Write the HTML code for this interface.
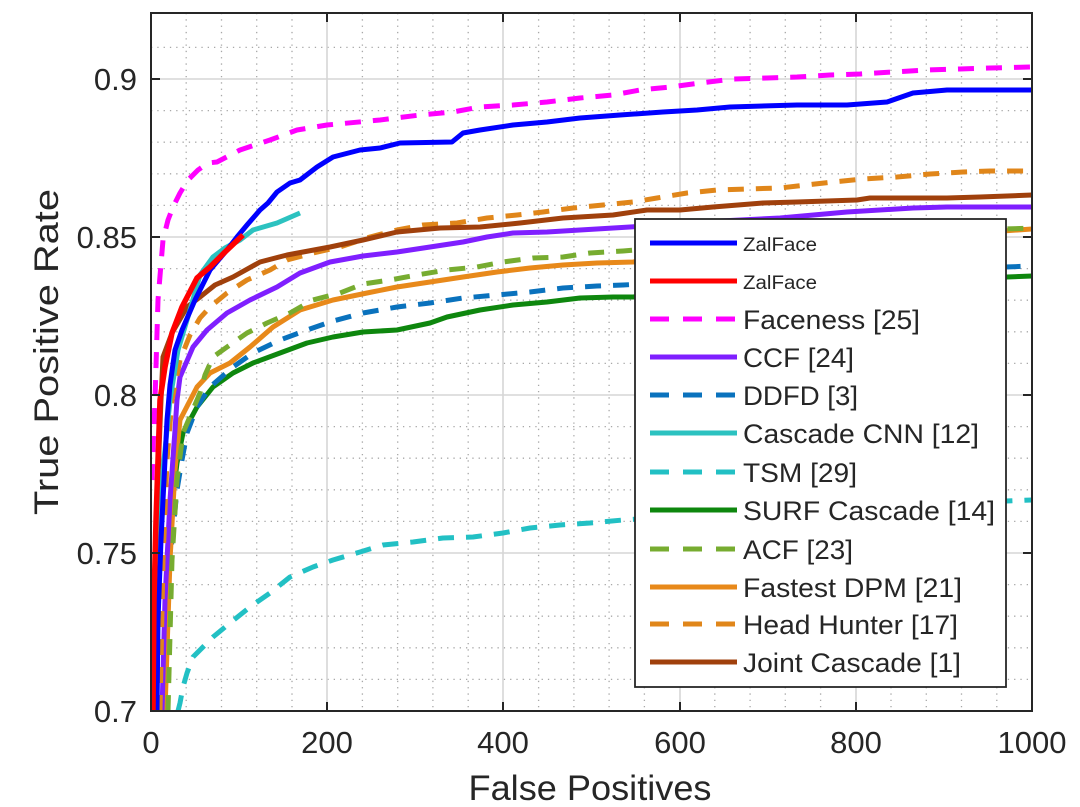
<!DOCTYPE html>
<html>
<head>
<meta charset="utf-8">
<style>
html,body{margin:0;padding:0;background:#fff;}
svg{display:block;}
text{font-family:"Liberation Sans",Arial,sans-serif;fill:#262626;}
</style>
</head>
<body>
<svg width="1080" height="807" viewBox="0 0 1080 807" xmlns="http://www.w3.org/2000/svg">
<defs>
<clipPath id="pa"><rect x="151" y="13" width="881" height="698"/></clipPath>
</defs>
<rect x="0" y="0" width="1080" height="807" fill="#fff"/>

<!-- minor grid -->
<g stroke="#a8a8a8" stroke-width="1.3" stroke-dasharray="1.3 5" fill="none">
<line x1="186.2" y1="13" x2="186.2" y2="711"/>
<line x1="221.5" y1="13" x2="221.5" y2="711"/>
<line x1="256.7" y1="13" x2="256.7" y2="711"/>
<line x1="292" y1="13" x2="292" y2="711"/>
<line x1="362.4" y1="13" x2="362.4" y2="711"/>
<line x1="397.7" y1="13" x2="397.7" y2="711"/>
<line x1="432.9" y1="13" x2="432.9" y2="711"/>
<line x1="468.2" y1="13" x2="468.2" y2="711"/>
<line x1="538.6" y1="13" x2="538.6" y2="711"/>
<line x1="573.9" y1="13" x2="573.9" y2="711"/>
<line x1="609.1" y1="13" x2="609.1" y2="711"/>
<line x1="644.4" y1="13" x2="644.4" y2="711"/>
<line x1="714.8" y1="13" x2="714.8" y2="711"/>
<line x1="750.1" y1="13" x2="750.1" y2="711"/>
<line x1="785.3" y1="13" x2="785.3" y2="711"/>
<line x1="820.6" y1="13" x2="820.6" y2="711"/>
<line x1="891" y1="13" x2="891" y2="711"/>
<line x1="926.3" y1="13" x2="926.3" y2="711"/>
<line x1="961.5" y1="13" x2="961.5" y2="711"/>
<line x1="996.8" y1="13" x2="996.8" y2="711"/>

<line x1="151" y1="679.4" x2="1032" y2="679.4"/>
<line x1="151" y1="647.8" x2="1032" y2="647.8"/>
<line x1="151" y1="616.2" x2="1032" y2="616.2"/>
<line x1="151" y1="584.6" x2="1032" y2="584.6"/>
<line x1="151" y1="521.4" x2="1032" y2="521.4"/>
<line x1="151" y1="489.8" x2="1032" y2="489.8"/>
<line x1="151" y1="458.2" x2="1032" y2="458.2"/>
<line x1="151" y1="426.6" x2="1032" y2="426.6"/>
<line x1="151" y1="363.4" x2="1032" y2="363.4"/>
<line x1="151" y1="331.8" x2="1032" y2="331.8"/>
<line x1="151" y1="300.2" x2="1032" y2="300.2"/>
<line x1="151" y1="268.6" x2="1032" y2="268.6"/>
<line x1="151" y1="205.4" x2="1032" y2="205.4"/>
<line x1="151" y1="173.8" x2="1032" y2="173.8"/>
<line x1="151" y1="142.2" x2="1032" y2="142.2"/>
<line x1="151" y1="110.6" x2="1032" y2="110.6"/>
<line x1="151" y1="47.4" x2="1032" y2="47.4"/>
</g>

<!-- major grid -->
<g stroke="#d6d6d6" stroke-width="1.6" fill="none">
<line x1="327" y1="13" x2="327" y2="711"/>
<line x1="503" y1="13" x2="503" y2="711"/>
<line x1="680" y1="13" x2="680" y2="711"/>
<line x1="856" y1="13" x2="856" y2="711"/>
<line x1="151" y1="79" x2="1032" y2="79"/>
<line x1="151" y1="237" x2="1032" y2="237"/>
<line x1="151" y1="395" x2="1032" y2="395"/>
<line x1="151" y1="553" x2="1032" y2="553"/>
</g>

<!-- series -->
<g clip-path="url(#pa)" fill="none" stroke-linejoin="round" stroke-linecap="butt">
<!-- TSM -->
<path stroke="#22c0c4" stroke-width="5" stroke-dasharray="16 12" d="M178,711 L180,703 L183,687 L187,673 L193,657 L200,650 L213,637 L230,623 L250,607 L270,593 L290,577 L313,567 L333,560 L360,552 L383,545 L413,542 L443,538 L473,537 L503,533 L530,528 L560,525 L590,523 L623,520 L750,512 L900,505 L1032,500"/>
<!-- SURF Cascade -->
<path stroke="#0e870e" stroke-width="5" d="M163,711 L166,600 L170,520 L177,463 L183,433 L197,407 L213,387 L233,373 L253,363 L280,353 L307,343 L333,337 L363,332 L397,330 L430,323 L447,317 L480,310 L513,305 L547,302 L580,298 L613,297 L633,297 L700,292 L800,286 L900,281 L1032,276"/>
<!-- DDFD -->
<path stroke="#0a72bd" stroke-width="5" stroke-dasharray="16 12" d="M167,600 L170,560 L173,530 L177,490 L182,460 L187,433 L197,407 L210,387 L233,367 L253,353 L280,340 L307,330 L333,321 L363,313 L397,307 L430,303 L463,298 L497,295 L530,292 L563,288 L597,286 L623,285 L700,281 L800,276 L900,271 L1032,266"/>
<!-- Fastest DPM -->
<path stroke="#e8891a" stroke-width="5" d="M165,711 L170,560 L175,470 L180,420 L197,387 L210,373 L230,363 L250,347 L273,327 L300,310 L333,300 L367,293 L397,287 L430,282 L463,277 L497,272 L530,268 L563,265 L597,263 L633,262 L750,250 L900,238 L1032,229"/>
<!-- ACF -->
<path stroke="#77ac30" stroke-width="5" stroke-dasharray="16 12" d="M168,711 L172,560 L177,480 L183,433 L200,393 L205,375 L213,357 L227,347 L247,333 L267,323 L290,313 L313,300 L340,293 L363,284 L390,280 L417,275 L447,270 L477,267 L503,262 L533,258 L563,257 L590,253 L623,251 L700,245 L800,238 L900,233 L1032,228"/>
<!-- CCF -->
<path stroke="#7f1fff" stroke-width="5" d="M162,711 L165,600 L170,500 L175,430 L177,400 L180,377 L193,347 L207,330 L227,313 L250,300 L277,287 L300,273 L330,262 L363,256 L397,252 L430,247 L463,242 L487,237 L513,233 L547,232 L580,230 L630,227 L700,222 L780,218 L847,212 L913,208 L947,207 L1032,207"/>
<!-- Head Hunter -->
<path stroke="#e0861a" stroke-width="5" stroke-dasharray="16 12" d="M160,711 L163,560 L167,460 L172,400 L180,360 L190,335 L200,318 L210,307 L227,293 L247,280 L270,270 L287,260 L313,253 L340,247 L370,237 L397,230 L423,225 L457,223 L487,218 L517,215 L543,212 L573,208 L603,205 L633,202 L657,198 L687,193 L717,190 L747,189 L780,188 L833,182 L863,179 L897,177 L930,174 L963,172 L990,171 L1032,171"/>
<!-- Joint Cascade -->
<path stroke="#a0400c" stroke-width="5" d="M155,711 L157,560 L159,450 L161,400 L163,357 L172,333 L187,307 L200,297 L215,285 L233,277 L260,262 L287,255 L330,247 L363,240 L397,232 L440,228 L480,227 L520,223 L563,218 L613,215 L647,210 L680,210 L713,207 L763,203 L797,202 L857,200 L870,198 L947,198 L980,197 L1032,195"/>
<!-- Cascade CNN -->
<path stroke="#2cc2c0" stroke-width="5" d="M156,711 L157,620 L160,520 L163,470 L170,400 L178,350 L190,310 L200,275 L213,257 L225,248 L240,240 L253,230 L277,223 L300,213"/>
<!-- Faceness -->
<path stroke="#ff00ff" stroke-width="5" stroke-dasharray="16 12" d="M152,480 L153,450 L155,400 L158,300 L163,240 L168,220 L173,207 L180,193 L188,180 L198,170 L208,163 L217,162 L240,150 L270,140 L297,130 L327,125 L380,120 L420,115 L453,112 L480,107 L513,105 L547,102 L580,98 L613,95 L640,90 L670,87 L700,83 L733,79 L767,78 L797,77 L830,75 L860,74 L893,72 L927,70 L960,69 L990,68 L1032,67"/>
<!-- ZalFace blue -->
<path stroke="#0000ff" stroke-width="5" d="M157,711 L158,620 L161,540 L164,480 L167,420 L170,385 L175,350 L182,330 L195,300 L210,270 L227,250 L237,237 L247,225 L260,210 L268,203 L277,192 L290,183 L300,180 L317,167 L333,157 L360,150 L380,148 L400,143 L452,142 L463,133 L480,130 L513,125 L547,122 L580,118 L620,115 L663,112 L697,110 L730,107 L797,105 L847,105 L887,102 L913,93 L947,90 L1032,90"/>
<!-- ZalFace red -->
<path stroke="#ff0000" stroke-width="5.5" d="M153,711 L154,600 L156,520 L158,460 L160,400 L165,367 L172,333 L182,307 L197,278 L210,267 L225,252 L243,235"/>
</g>

<!-- axes box -->
<rect x="151" y="13" width="881" height="698" fill="none" stroke="#262626" stroke-width="2"/>
<!-- ticks -->
<g stroke="#262626" stroke-width="2">
<line x1="327" y1="711" x2="327" y2="702"/>
<line x1="503" y1="711" x2="503" y2="702"/>
<line x1="680" y1="711" x2="680" y2="702"/>
<line x1="856" y1="711" x2="856" y2="702"/>
<line x1="327" y1="13" x2="327" y2="22"/>
<line x1="503" y1="13" x2="503" y2="22"/>
<line x1="680" y1="13" x2="680" y2="22"/>
<line x1="856" y1="13" x2="856" y2="22"/>
<line x1="151" y1="79" x2="160" y2="79"/>
<line x1="151" y1="237" x2="160" y2="237"/>
<line x1="151" y1="395" x2="160" y2="395"/>
<line x1="151" y1="553" x2="160" y2="553"/>
<line x1="1032" y1="79" x2="1023" y2="79"/>
<line x1="1032" y1="237" x2="1023" y2="237"/>
<line x1="1032" y1="395" x2="1023" y2="395"/>
<line x1="1032" y1="553" x2="1023" y2="553"/>
</g>

<!-- tick labels -->
<g font-size="31" text-anchor="end">
<text x="137" y="90">0.9</text>
<text x="137" y="248">0.85</text>
<text x="137" y="406">0.8</text>
<text x="137" y="564">0.75</text>
<text x="137" y="722">0.7</text>
</g>
<g font-size="31" text-anchor="middle">
<text x="151" y="753">0</text>
<text x="327" y="753">200</text>
<text x="503" y="753">400</text>
<text x="680" y="753">600</text>
<text x="856" y="753">800</text>
<text x="1032" y="753">1000</text>
</g>

<!-- axis labels -->
<text x="590" y="800" font-size="35" text-anchor="middle" textLength="243" lengthAdjust="spacingAndGlyphs">False Positives</text>
<text transform="translate(58,352) rotate(-90)" font-size="34" text-anchor="middle" textLength="326" lengthAdjust="spacingAndGlyphs">True Positive Rate</text>

<!-- legend -->
<rect x="635" y="219" width="371" height="468" fill="#fff" stroke="#262626" stroke-width="1.8"/>
<g stroke-width="5" fill="none">
<line x1="650" y1="243" x2="737" y2="243" stroke="#0000ff"/>
<line x1="650" y1="281" x2="737" y2="281" stroke="#ff0000"/>
<line x1="650" y1="319" x2="737" y2="319" stroke="#ff00ff" stroke-dasharray="19 14"/>
<line x1="650" y1="357" x2="737" y2="357" stroke="#7f1fff"/>
<line x1="650" y1="395" x2="737" y2="395" stroke="#0a72bd" stroke-dasharray="19 14"/>
<line x1="650" y1="433" x2="737" y2="433" stroke="#2cc2c0"/>
<line x1="650" y1="472" x2="737" y2="472" stroke="#22c0c4" stroke-dasharray="19 14"/>
<line x1="650" y1="510" x2="737" y2="510" stroke="#0e870e"/>
<line x1="650" y1="549" x2="737" y2="549" stroke="#77ac30" stroke-dasharray="19 14"/>
<line x1="650" y1="587" x2="737" y2="587" stroke="#e8891a"/>
<line x1="650" y1="624" x2="737" y2="624" stroke="#e0861a" stroke-dasharray="19 14"/>
<line x1="650" y1="662" x2="737" y2="662" stroke="#a0400c"/>
</g>
<g font-size="19" fill="#111">
<text x="743" y="251" textLength="74" lengthAdjust="spacingAndGlyphs">ZalFace</text>
<text x="743" y="289" textLength="74" lengthAdjust="spacingAndGlyphs">ZalFace</text>
</g>
<g font-size="27">
<text x="743" y="329" textLength="177" lengthAdjust="spacingAndGlyphs">Faceness [25]</text>
<text x="743" y="367" textLength="111" lengthAdjust="spacingAndGlyphs">CCF [24]</text>
<text x="743" y="405" textLength="115" lengthAdjust="spacingAndGlyphs">DDFD [3]</text>
<text x="743" y="443" textLength="236" lengthAdjust="spacingAndGlyphs">Cascade CNN [12]</text>
<text x="743" y="482" textLength="114" lengthAdjust="spacingAndGlyphs">TSM [29]</text>
<text x="743" y="520" textLength="252" lengthAdjust="spacingAndGlyphs">SURF Cascade [14]</text>
<text x="743" y="559" textLength="110" lengthAdjust="spacingAndGlyphs">ACF [23]</text>
<text x="743" y="597" textLength="219" lengthAdjust="spacingAndGlyphs">Fastest DPM [21]</text>
<text x="743" y="634" textLength="215" lengthAdjust="spacingAndGlyphs">Head Hunter [17]</text>
<text x="743" y="672" textLength="218" lengthAdjust="spacingAndGlyphs">Joint Cascade [1]</text>
</g>
</svg>
</body>
</html>
